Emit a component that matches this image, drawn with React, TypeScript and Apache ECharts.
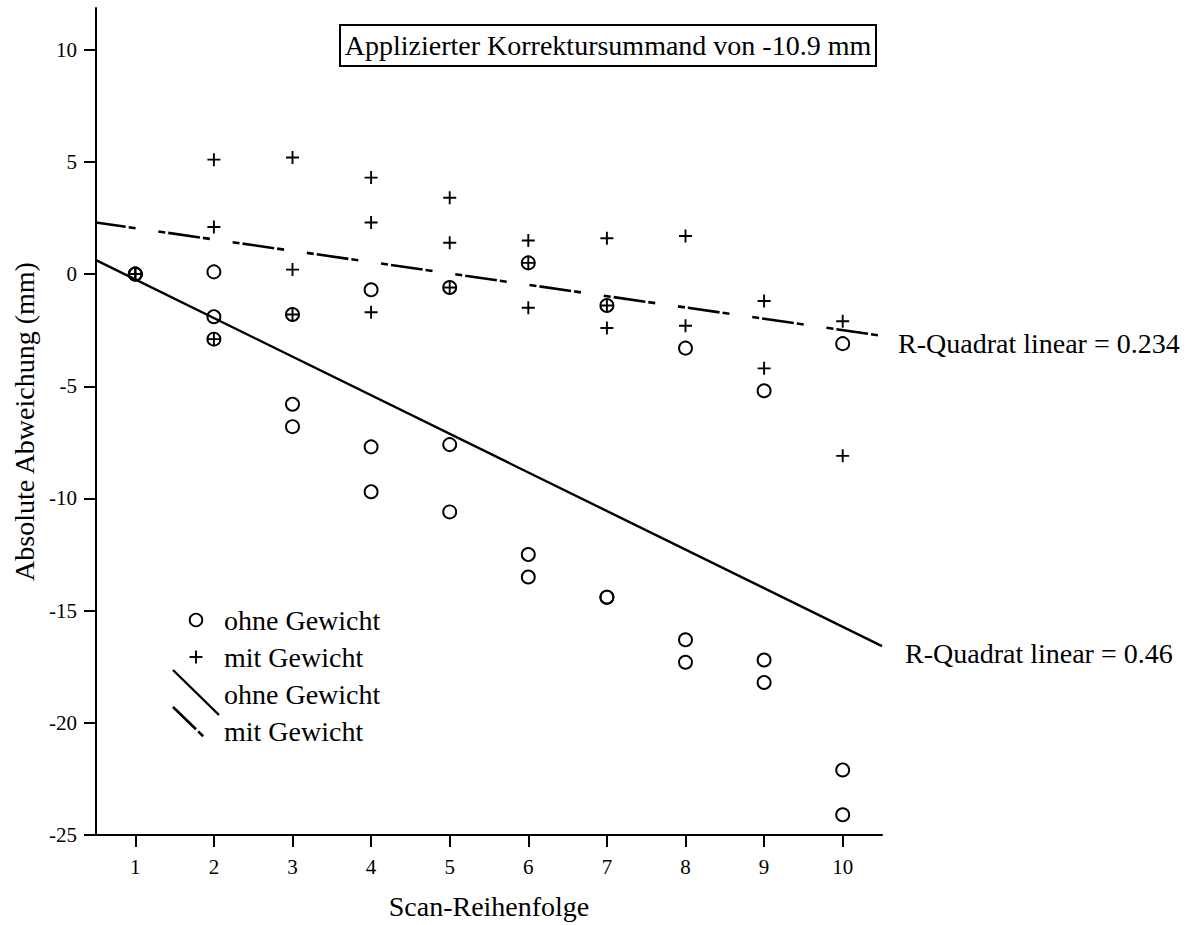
import React, { useEffect, useRef } from "react";
import * as echarts from "echarts";

const FONT = '"Liberation Serif", "Times New Roman", serif';

const scanOhneX = [1, 1, 1, 2, 2, 2, 3, 3, 3, 4, 4, 4, 5, 5, 5, 6, 6, 6, 7, 7, 7, 8, 8, 8, 9, 9, 9, 10, 10, 10];
const ohneGewichtY = [0, 0, 0, 0.1, -1.9, -2.9, -1.8, -5.8, -6.8, -0.7, -7.7, -9.7, -0.6, -7.6, -10.6, 0.5, -12.5, -13.5, -1.4, -14.4, -14.4, -3.3, -16.3, -17.3, -5.2, -17.2, -18.2, -3.1, -22.1, -24.1];

const scanMitX = [1, 1, 1, 2, 2, 2, 3, 3, 3, 4, 4, 4, 5, 5, 5, 6, 6, 6, 7, 7, 7, 8, 8, 9, 9, 10, 10];
const mitGewichtY = [0, 0, 0, 5.1, 2.1, -2.9, 5.2, 0.2, -1.8, 4.3, 2.3, -1.7, 3.4, 1.4, -0.6, 1.5, 0.5, -1.5, 1.6, -1.4, -2.4, 1.7, -2.3, -1.2, -4.2, -2.1, -8.1];

const fitLineX = [0.5, 10.5];
const fitOhneY = [0.62, -16.58];
const fitMitY = [2.3, -2.75];

const xTicks = [1, 2, 3, 4, 5, 6, 7, 8, 9, 10];
const yTicks = [-25, -20, -15, -10, -5, 0, 5, 10];

const titleText = "Applizierter Korrektursummand von -10.9 mm";
const rSquaredMit = "R-Quadrat linear = 0.234";
const rSquaredOhne = "R-Quadrat linear = 0.46";
const legendLabels = ["ohne Gewicht", "mit Gewicht", "ohne Gewicht", "mit Gewicht"];

export default function App() {
  const ref = useRef<HTMLDivElement>(null);
  useEffect(() => {
    if (!ref.current) return;
    const chart = echarts.init(ref.current, null, { renderer: "svg" });
    const zip = (xs: number[], ys: number[]) => xs.map((x, i) => [x, ys[i]]);
    const textStyle = (fontSize: number) => ({ fontFamily: FONT, fontSize, fill: "#000" });
    chart.setOption({
      animation: false,
      backgroundColor: "#fff",
      grid: { left: 96, right: 312, top: 8, bottom: 86 },
      xAxis: {
        type: "value",
        min: 0.5,
        max: 10.5,
        name: "Scan-Reihenfolge",
        nameLocation: "middle",
        nameGap: 57,
        nameTextStyle: { fontFamily: FONT, fontSize: 28, color: "#000" },
        axisLine: { show: true, onZero: false, lineStyle: { color: "#000", width: 2 } },
        axisTick: { show: true, length: 12, customValues: xTicks, lineStyle: { color: "#000", width: 2 } },
        axisLabel: { customValues: xTicks, fontFamily: FONT, fontSize: 21, color: "#000", margin: 21 },
        splitLine: { show: false },
      },
      yAxis: {
        type: "value",
        min: -25,
        max: 11.86,
        name: "Absolute Abweichung (mm)",
        nameLocation: "middle",
        nameGap: 54,
        nameTextStyle: { fontFamily: FONT, fontSize: 28, color: "#000" },
        axisLine: { show: true, onZero: false, lineStyle: { color: "#000", width: 2 } },
        axisTick: { show: true, length: 12, customValues: yTicks, lineStyle: { color: "#000", width: 2 } },
        axisLabel: { customValues: yTicks, fontFamily: FONT, fontSize: 21, color: "#000", margin: 19 },
        splitLine: { show: false },
      },
      series: [
        {
          type: "line",
          data: zip(fitLineX, fitOhneY),
          showSymbol: false,
          symbol: "none",
          lineStyle: { color: "#000", width: 2.4 },
          z: 2,
        },
        {
          type: "line",
          data: zip(fitLineX, fitMitY),
          showSymbol: false,
          symbol: "none",
          lineStyle: { color: "#000", width: 2.6, type: [7, 3, 32, 3, 7, 23], dashOffset: 12 },
          z: 2,
        },
        {
          type: "scatter",
          data: zip(scanOhneX, ohneGewichtY),
          symbol: "circle",
          symbolSize: 13,
          itemStyle: { color: "none", borderColor: "#000", borderWidth: 1.9, opacity: 1 },
          z: 3,
        },
        {
          type: "scatter",
          data: zip(scanMitX, mitGewichtY),
          symbol: "path://M0,7H14M7,0V14",
          symbolSize: 13,
          itemStyle: { color: "none", borderColor: "#000", borderWidth: 1.9, opacity: 1 },
          z: 4,
        },
      ],
      graphic: [
        {
          type: "rect",
          shape: { x: 340, y: 25, width: 536, height: 41 },
          style: { fill: "#fff", stroke: "#000", lineWidth: 2 },
          z: 10,
        },
        {
          type: "text",
          x: 608,
          y: 45.5,
          style: { ...textStyle(28), text: titleText, align: "center", verticalAlign: "middle" },
          z: 11,
        },
        {
          type: "text",
          x: 898,
          y: 343.5,
          style: { ...textStyle(28), text: rSquaredMit, align: "left", verticalAlign: "middle" },
        },
        {
          type: "text",
          x: 905,
          y: 653,
          style: { ...textStyle(28), text: rSquaredOhne, align: "left", verticalAlign: "middle" },
        },
        // legend
        {
          type: "circle",
          shape: { cx: 196, cy: 620, r: 6.3 },
          style: { fill: "none", stroke: "#000", lineWidth: 1.9 },
        },
        {
          type: "line",
          shape: { x1: 189.5, y1: 657, x2: 202.5, y2: 657 },
          style: { stroke: "#000", lineWidth: 1.9 },
        },
        {
          type: "line",
          shape: { x1: 196, y1: 650.5, x2: 196, y2: 663.5 },
          style: { stroke: "#000", lineWidth: 1.9 },
        },
        {
          type: "line",
          shape: { x1: 173, y1: 670, x2: 219, y2: 715 },
          style: { stroke: "#000", lineWidth: 2.4 },
        },
        {
          type: "line",
          shape: { x1: 173, y1: 707, x2: 204, y2: 737 },
          style: { stroke: "#000", lineWidth: 2.6, lineDash: [32, 3, 7, 30] },
        },
        ...legendLabels.map((t, i) => ({
          type: "text",
          x: 224,
          y: 620 + i * 37,
          style: { ...textStyle(28), text: t, align: "left", verticalAlign: "middle" },
        })),
      ],
    });
    return () => chart.dispose();
  }, []);
  return (
    <div
      ref={ref}
      style={{ position: "absolute", left: 0, top: 0, width: 1194, height: 925, background: "#fff" }}
    />
  );
}
